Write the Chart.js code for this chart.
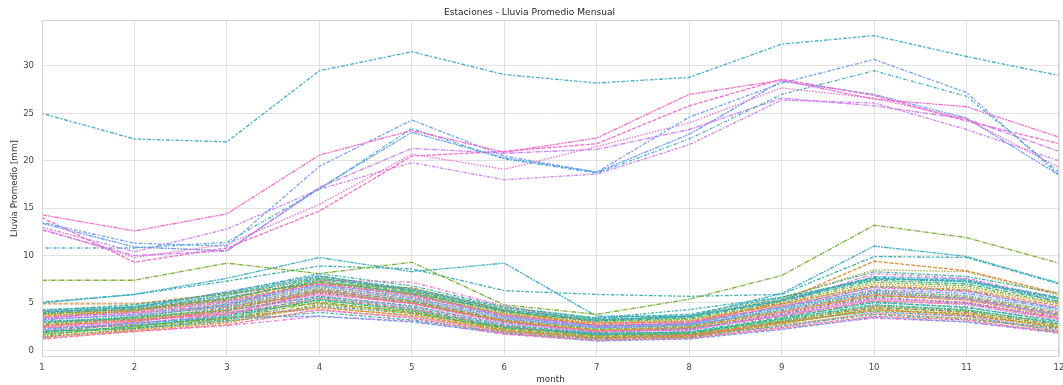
<!DOCTYPE html>
<html>
<head>
<meta charset="utf-8">
<script src="https://cdn.jsdelivr.net/npm/chart.js@4.4.1/dist/chart.umd.min.js"></script>
<style>
  html, body { margin: 0; padding: 0; background: #ffffff; }
  #wrap { width: 1063px; height: 385px; position: relative; }
</style>
</head>
<body>
<div id="wrap"><canvas id="c" width="1063" height="385"></canvas></div>
<script>
// ---- Data ----
const months = [1, 2, 3, 4, 5, 6, 7, 8, 9, 10, 11, 12];
const yTickValues = [0, 5, 10, 15, 20, 25, 30];

// highest station
const t01 = [25.0, 22.3, 22.0, 29.5, 31.5, 29.1, 28.2, 28.8, 32.3, 33.2, 31.0, 29.0];
// upper group
const h01 = [14.3, 12.6, 14.4, 20.6, 23.2, 20.9, 22.4, 27.0, 28.5, 26.5, 25.7, 22.5];
const h02 = [13.5, 11.3, 11.0, 19.4, 24.3, 20.5, 18.8, 24.6, 28.2, 30.7, 27.2, 18.5];
const h03 = [10.8, 10.8, 11.4, 17.0, 23.4, 20.2, 18.7, 22.3, 27.0, 29.5, 26.8, 18.8];
const h04 = [14.0, 9.3, 10.8, 14.7, 20.5, 21.0, 21.8, 25.8, 28.6, 26.9, 24.2, 21.8];
const h05 = [12.8, 9.8, 11.2, 15.4, 20.7, 19.1, 21.5, 24.0, 27.7, 26.6, 24.4, 19.3];
const h06 = [13.0, 10.4, 12.8, 17.0, 19.8, 18.0, 18.6, 21.7, 26.4, 26.1, 23.3, 20.0];
const h07 = [12.7, 10.0, 10.5, 17.2, 21.3, 20.8, 21.2, 23.3, 26.6, 25.8, 24.4, 21.0];
const h08 = [13.4, 10.9, 10.5, 17.1, 23.0, 20.3, 18.8, 22.8, 28.4, 27.0, 24.5, 18.5];
// middle group
const m01 = [7.4, 7.4, 9.2, 8.1, 9.3, 4.8, 3.8, 5.4, 7.9, 13.2, 11.9, 9.2];
const m02 = [5.0, 5.9, 7.6, 9.8, 8.3, 9.2, 3.6, 3.6, 6.0, 11.0, 9.9, 7.1];
const m03 = [5.1, 5.9, 7.3, 8.9, 8.6, 6.3, 5.9, 5.7, 5.9, 9.9, 9.8, 7.0];
const m04 = [4.1, 4.3, 5.5, 7.4, 7.2, 4.7, 2.9, 3.0, 4.9, 8.1, 7.6, 5.5];
const m05 = [4.9, 4.9, 6.0, 7.0, 6.6, 4.2, 2.6, 2.8, 5.2, 9.4, 8.4, 6.0];
const m06 = [3.9, 4.1, 5.9, 7.7, 6.3, 4.4, 3.2, 3.6, 5.5, 8.5, 8.3, 5.8];
const m07 = [4.3, 4.6, 6.1, 8.1, 6.8, 4.6, 3.4, 4.3, 5.6, 8.3, 7.8, 6.0];
const m08 = [4.0, 4.5, 6.2, 7.9, 6.3, 4.1, 3.1, 3.6, 5.2, 7.8, 7.5, 5.1];
// bulk of stations
const b01 = [1.2, 2.0, 2.7, 4.3, 3.4, 1.8, 1.1, 1.3, 2.4, 3.6, 3.2, 1.9];
const b02 = [1.4, 2.2, 3.0, 4.6, 3.6, 2.0, 1.2, 1.5, 2.7, 3.9, 3.4, 2.1];
const b03 = [1.5, 2.1, 2.9, 4.9, 3.9, 2.1, 1.4, 1.4, 2.9, 4.2, 3.9, 2.4];
const b04 = [1.7, 2.4, 3.3, 5.1, 4.0, 2.3, 1.5, 1.7, 3.1, 4.5, 4.1, 2.6];
const b05 = [1.9, 2.5, 3.6, 5.3, 4.2, 2.4, 1.6, 1.8, 3.3, 4.8, 4.3, 2.8];
const b06 = [2.0, 2.3, 3.1, 4.0, 3.2, 1.9, 1.2, 1.4, 2.6, 3.8, 3.3, 2.3];
const b07 = [2.1, 2.7, 3.7, 5.6, 4.5, 2.6, 1.7, 2.0, 3.5, 5.0, 4.6, 3.0];
const b08 = [2.2, 2.9, 3.5, 3.6, 3.0, 1.8, 1.0, 1.2, 2.2, 3.5, 3.0, 1.9];
const b09 = [2.3, 2.8, 3.9, 5.8, 4.6, 2.8, 1.9, 2.2, 3.7, 5.3, 4.8, 3.2];
const b10 = [2.4, 3.0, 4.1, 6.0, 4.9, 2.9, 2.0, 2.1, 3.9, 5.5, 5.1, 3.4];
const b11 = [2.5, 3.2, 3.8, 5.5, 4.4, 2.5, 1.6, 1.6, 3.0, 4.6, 4.0, 2.7];
const b12 = [2.6, 3.1, 4.3, 6.2, 5.0, 3.1, 2.1, 2.4, 4.0, 5.8, 5.3, 3.6];
const b13 = [2.7, 3.3, 4.0, 5.0, 4.1, 2.2, 1.3, 1.5, 2.8, 4.4, 3.8, 2.5];
const b14 = [2.8, 3.4, 4.5, 6.4, 5.2, 3.2, 2.2, 2.5, 4.2, 6.0, 5.6, 3.9];
const b15 = [2.9, 3.5, 4.2, 5.7, 4.7, 2.7, 1.8, 1.9, 3.4, 5.1, 4.5, 3.1];
const b16 = [3.0, 3.6, 4.7, 6.6, 5.4, 3.4, 2.3, 2.6, 4.4, 6.2, 5.8, 4.1];
const b17 = [3.1, 3.3, 4.4, 6.1, 5.1, 3.0, 1.9, 2.3, 3.8, 5.6, 5.0, 3.5];
const b18 = [3.2, 3.8, 4.9, 6.8, 5.6, 3.5, 2.5, 2.8, 4.5, 6.4, 6.0, 4.3];
const b19 = [3.3, 3.7, 4.6, 6.3, 5.3, 3.3, 2.4, 2.7, 4.1, 5.9, 5.4, 3.8];
const b20 = [3.4, 4.0, 5.1, 7.0, 5.8, 3.7, 2.6, 2.9, 4.7, 6.6, 6.2, 4.5];
const b21 = [3.5, 3.9, 4.8, 6.5, 5.5, 3.6, 2.7, 3.0, 4.6, 6.3, 5.7, 4.0];
const b22 = [3.6, 4.2, 5.3, 7.1, 5.9, 3.8, 2.8, 3.1, 4.9, 6.8, 6.4, 4.7];
const b23 = [3.7, 4.1, 5.0, 6.7, 5.7, 3.9, 2.9, 3.2, 4.8, 7.0, 6.6, 4.9];
const b24 = [3.8, 4.4, 5.5, 7.3, 6.1, 4.0, 3.0, 3.3, 5.0, 7.2, 6.8, 5.0];
const b25 = [3.9, 4.3, 5.4, 7.5, 6.2, 4.1, 3.1, 3.4, 5.2, 7.4, 7.0, 5.2];
const b26 = [4.0, 4.6, 5.8, 7.6, 6.4, 4.3, 3.2, 3.6, 5.3, 7.6, 7.2, 5.4];
const b27 = [4.1, 4.5, 5.6, 7.2, 6.0, 4.2, 3.3, 3.5, 5.4, 7.7, 7.3, 5.6];
const b28 = [1.3, 2.0, 2.6, 3.6, 3.1, 1.7, 1.0, 1.3, 2.3, 3.4, 3.0, 1.8];
const b29 = [4.2, 4.8, 6.0, 7.8, 6.5, 4.5, 3.4, 3.8, 5.6, 7.5, 7.4, 5.5];
const b30 = [3.0, 3.2, 4.0, 4.2, 3.5, 2.0, 1.3, 1.6, 2.5, 4.0, 3.6, 2.2];
const b31 = [1.6, 2.6, 3.4, 5.4, 4.3, 2.5, 1.8, 1.9, 3.2, 4.7, 4.2, 2.9];
const b32 = [2.0, 2.8, 3.8, 6.2, 5.0, 3.0, 2.0, 2.3, 3.6, 5.2, 4.9, 3.3];
const b33 = [3.4, 4.2, 5.2, 6.9, 5.9, 3.6, 2.4, 2.6, 4.3, 6.1, 5.5, 3.7];
const b34 = [2.6, 3.5, 4.8, 7.3, 6.0, 3.8, 2.6, 2.8, 4.6, 6.7, 6.3, 4.4];
const b35 = [1.8, 3.0, 4.2, 6.4, 5.2, 3.2, 2.2, 2.4, 4.0, 5.7, 5.5, 3.8];
const b36 = [2.4, 2.6, 3.4, 4.5, 3.7, 2.1, 1.4, 1.6, 2.9, 4.3, 3.7, 2.4];
const b37 = [3.8, 4.0, 4.6, 5.9, 5.0, 3.1, 2.0, 2.2, 3.7, 5.4, 5.0, 3.4];
const b38 = [1.4, 2.3, 3.2, 4.7, 3.9, 2.4, 1.7, 1.7, 3.0, 4.1, 3.6, 2.0];

const seriesList = [
  b01, b02, b03, b04, b05, b06, b07, b08, b09, b10, b11, b12, b13, b14, b15, b16, b17, b18, b19,
  b20, b21, b22, b23, b24, b25, b26, b27, b28, b29, b30, b31, b32, b33, b34, b35, b36, b37, b38,
  m01, m02, m03, m04, m05, m06, m07, m08,
  h01, h02, h03, h04, h05, h06, h07, h08, t01
];

// ---- Styles (kept apart from the data) ----
const palette = ['#f77189', '#dc8932', '#ae9d31', '#77ab31', '#33b07a',
                 '#36ada4', '#38a9c5', '#6e9bf4', '#cc7af4', '#f565cc'];
const colorIndex = [
  0, 1, 2, 3, 4, 5, 6, 7, 8, 9, 0, 1, 2, 3, 4, 5, 6, 7, 8,
  9, 0, 1, 2, 3, 4, 5, 6, 9, 5, 8, 4, 0, 7, 5, 3, 1, 0, 5,
  3, 6, 5, 9, 1, 2, 5, 7,
  9, 7, 6, 9, 9, 8, 8, 7, 6
];
const dashes = [[4, 1.5], [1.5, 1.5], [3.5, 1.5, 1.5, 1.5], [5, 1.2, 1.2, 1.2], [5, 1, 2, 1, 2, 1], [2, 2, 4, 1.5], [1.2, 2.5, 3, 1.2]];

function hexA(hex, a) {
  const r = parseInt(hex.slice(1, 3), 16), g = parseInt(hex.slice(3, 5), 16), b = parseInt(hex.slice(5, 7), 16);
  return `rgba(${r},${g},${b},${a})`;
}

const datasets = seriesList.map((arr, i) => ({
  label: 'station ' + (i + 1),
  data: arr,
  borderColor: hexA(palette[colorIndex[i]], 0.92),
  backgroundColor: hexA(palette[colorIndex[i]], 0.92),
  borderWidth: 1.35,
  borderDash: dashes[i % dashes.length],
  pointRadius: 0,
  tension: 0,
  fill: false
}));

const frame = {
  id: 'frame',
  afterDatasetsDraw(chart) {
    const { ctx, chartArea: a } = chart;
    ctx.save();
    ctx.strokeStyle = '#d4d4d4';
    ctx.lineWidth = 1;
    ctx.strokeRect(Math.round(a.left) + 0.5, Math.round(a.top) + 0.5,
                   Math.round(a.right - a.left) - 1, Math.round(a.bottom - a.top) - 1);
    ctx.restore();
  }
};

const FONT = "'DejaVu Sans', sans-serif";

new Chart(document.getElementById('c'), {
  type: 'line',
  data: { labels: months, datasets },
  options: {
    responsive: false,
    animation: false,
    layout: { padding: { left: 0, right: 4, top: 0, bottom: 0 } },
    plugins: {
      legend: { display: false },
      tooltip: { enabled: false },
      title: {
        display: true,
        text: 'Estaciones - Lluvia Promedio Mensual',
        color: '#262626',
        font: { family: FONT, size: 9.1, weight: 'normal', lineHeight: 1.2 },
        padding: { top: 7.5, bottom: 1.6 }
      }
    },
    scales: {
      x: {
        type: 'category',
        offset: false,
        grid: { color: '#e2e2e2', lineWidth: 1, drawTicks: false, offset: false },
        border: { display: false },
        ticks: { color: '#444', font: { family: FONT, size: 8.5 }, padding: 6, maxRotation: 0, autoSkip: false },
        title: { display: true, text: 'month', color: '#333', font: { family: FONT, size: 8.8 }, padding: { top: 0, bottom: 0 } },
        afterFit(s) { s.height = 28; s.paddingLeft = 0; s.paddingRight = 0; }
      },
      y: {
        type: 'linear',
        min: -0.7,
        max: 34.85,
        grid: { color: '#e2e2e2', lineWidth: 1, drawTicks: false },
        border: { display: false },
        afterBuildTicks(s) { s.ticks = yTickValues.map(v => ({ value: v })); },
        ticks: { color: '#444', font: { family: FONT, size: 8.5 }, padding: 8, includeBounds: false },
        title: { display: true, text: 'Lluvia Promedio [mm]', color: '#333', font: { family: FONT, size: 8.8 }, padding: { top: 9, bottom: 0 } },
        afterFit(s) { s.width = 42; s.paddingTop = 0; s.paddingBottom = 0; }
      }
    }
  },
  plugins: [frame]
});
</script>
</body>
</html>
